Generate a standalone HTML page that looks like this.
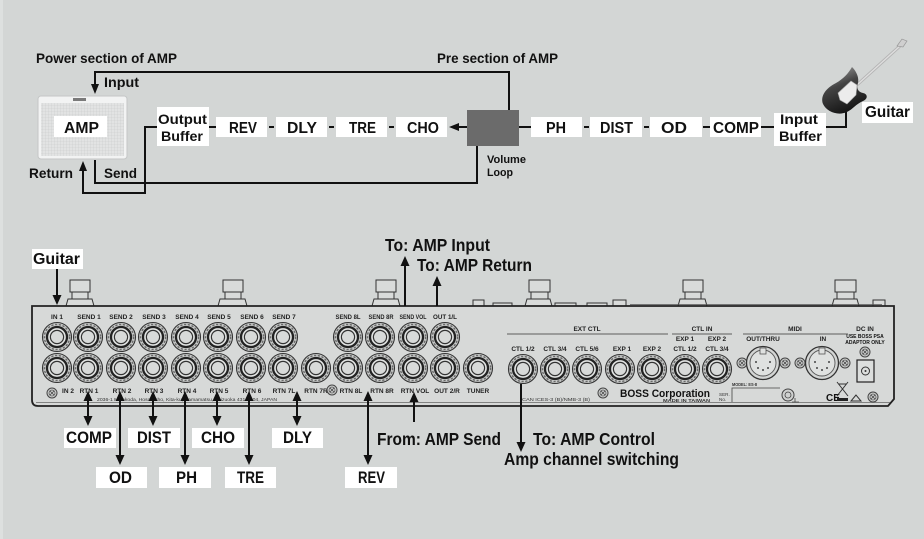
<!DOCTYPE html>
<html><head><meta charset="utf-8"><style>
html,body{margin:0;padding:0;background:#d3d6d5;}
svg{display:block;}
text{font-family:"Liberation Sans","DejaVu Sans",sans-serif;font-weight:bold;fill:#111;}
.s{font-size:6.5px;fill:#222;}
.t{font-size:4.6px;fill:#333;font-weight:normal;}
</style></head><body>
<svg width="924" height="539" viewBox="0 0 924 539" xmlns="http://www.w3.org/2000/svg">
<defs>
<linearGradient id="gb" x1="0.2" y1="0" x2="0.6" y2="1">
<stop offset="0" stop-color="#a0a0a0"/><stop offset="0.4" stop-color="#444"/><stop offset="1" stop-color="#111"/>
</linearGradient>
<pattern id="grill" width="3" height="3" patternUnits="userSpaceOnUse">
<rect width="3" height="3" fill="#e2e3e3"/><path d="M0 0H3M0 0V3" stroke="#c9cbcb" stroke-width="0.6"/>
</pattern>
<g id="j">
<circle r="14.5" fill="#c6c8c7" stroke="#333" stroke-width="1.1"/>
<circle r="12.6" fill="none" stroke="#6a6a6a" stroke-width="1.4" stroke-dasharray="2.2 1.6"/>
<circle r="10" fill="#e3e5e4" stroke="#222" stroke-width="2.3"/>
<circle r="6.6" fill="#d8dad9" stroke="#333" stroke-width="1.2"/>
</g>
<g id="sc">
<circle r="5" fill="#cfd1d0" stroke="#444" stroke-width="1"/>
<circle r="3" fill="none" stroke="#555" stroke-width="0.8"/>
<path d="M-2 -2L2 2M2 -2L-2 2" stroke="#444" stroke-width="0.8"/>
</g>
<g id="xlr">
<circle r="16.5" fill="#d3d5d4" stroke="#333" stroke-width="1.3"/>
<circle r="13" fill="#dfe1e0" stroke="#555" stroke-width="0.9"/>
<rect x="-3" y="-15" width="6" height="6" fill="#dfe1e0" stroke="#555" stroke-width="0.8"/>
<circle cx="-7" cy="-1" r="1" fill="#444"/><circle cx="7" cy="-1" r="1" fill="#444"/>
<circle cx="-5" cy="5" r="1" fill="#444"/><circle cx="5" cy="5" r="1" fill="#444"/><circle cx="0" cy="7" r="1" fill="#444"/>
</g>
</defs>

<rect x="0" y="0" width="924" height="539" fill="#d3d6d5"/>
<rect x="0" y="0" width="3" height="539" fill="#dde0df"/>

<!-- ===== TOP DIAGRAM ===== -->
<text x="36" y="63" font-size="14" textLength="141" lengthAdjust="spacingAndGlyphs">Power section of AMP</text>
<text x="437" y="63" font-size="14" textLength="121" lengthAdjust="spacingAndGlyphs">Pre section of AMP</text>

<g stroke="#111" stroke-width="2" fill="none">
<polyline points="509,110 509,72 95,72 95,86"/>
<polyline points="95,160 95,183 477,183 477,146"/>
<polyline points="157,127 145,127 145,193 83,193 83,170"/>
<line x1="209" y1="127" x2="216" y2="127"/>
<line x1="269" y1="127" x2="274" y2="127"/>
<line x1="329" y1="127" x2="334" y2="127"/>
<line x1="389" y1="127" x2="394" y2="127"/>
<line x1="467" y1="127" x2="456" y2="127"/>
<line x1="519" y1="127" x2="531" y2="127"/>
<line x1="584" y1="127" x2="589" y2="127"/>
<line x1="644" y1="127" x2="649" y2="127"/>
<line x1="703" y1="127" x2="710" y2="127"/>
<line x1="761" y1="127" x2="774" y2="127"/>
<polyline points="826,127 846,127 846,110"/>
</g>
<polygon points="95,94 91,84 99,84" fill="#111"/>
<polygon points="83,161 79,171 87,171" fill="#111"/>
<polygon points="449,127 459,123 459,131" fill="#111"/>

<text x="104" y="87" font-size="14" textLength="35" lengthAdjust="spacingAndGlyphs">Input</text>
<text x="29" y="178" font-size="14" textLength="44" lengthAdjust="spacingAndGlyphs">Return</text>
<text x="104" y="178" font-size="14" textLength="33" lengthAdjust="spacingAndGlyphs">Send</text>

<!-- amp -->
<rect x="38" y="96" width="89" height="63" rx="3" fill="#f2f3f3" stroke="#c4c6c6" stroke-width="1"/>
<rect x="41" y="103" width="83" height="53" fill="url(#grill)"/>
<rect x="73" y="98" width="13" height="3" fill="#7a7a7a"/>
<rect x="54" y="116" width="53" height="21" fill="#fff"/>
<text x="64" y="133" font-size="15.5" textLength="35" lengthAdjust="spacingAndGlyphs">AMP</text>

<!-- chain boxes -->
<rect x="157" y="107" width="52" height="39" fill="#fff"/>
<text x="158" y="124" font-size="14" textLength="49" lengthAdjust="spacingAndGlyphs">Output</text>
<text x="161" y="141" font-size="14" textLength="42" lengthAdjust="spacingAndGlyphs">Buffer</text>

<rect x="216" y="117" width="51" height="20" fill="#fff"/>
<text x="229" y="133" font-size="15.5" textLength="28" lengthAdjust="spacingAndGlyphs">REV</text>
<rect x="276" y="117" width="51" height="20" fill="#fff"/>
<text x="287" y="133" font-size="15.5" textLength="30" lengthAdjust="spacingAndGlyphs">DLY</text>
<rect x="336" y="117" width="51" height="20" fill="#fff"/>
<text x="349" y="133" font-size="15.5" textLength="27" lengthAdjust="spacingAndGlyphs">TRE</text>
<rect x="396" y="117" width="51" height="20" fill="#fff"/>
<text x="407" y="133" font-size="15.5" textLength="32" lengthAdjust="spacingAndGlyphs">CHO</text>

<rect x="467" y="110" width="52" height="36" fill="#6b6b6b"/>
<text x="487" y="163" font-size="11" textLength="39" lengthAdjust="spacingAndGlyphs">Volume</text>
<text x="487" y="176" font-size="11" textLength="26" lengthAdjust="spacingAndGlyphs">Loop</text>

<rect x="531" y="117" width="51" height="20" fill="#fff"/>
<text x="546" y="133" font-size="15.5" textLength="20" lengthAdjust="spacingAndGlyphs">PH</text>
<rect x="590" y="117" width="52" height="20" fill="#fff"/>
<text x="600" y="133" font-size="15.5" textLength="33" lengthAdjust="spacingAndGlyphs">DIST</text>
<rect x="650" y="117" width="52" height="20" fill="#fff"/>
<text x="661" y="133" font-size="15.5" textLength="26" lengthAdjust="spacingAndGlyphs">OD</text>
<rect x="710" y="117" width="51" height="20" fill="#fff"/>
<text x="713" y="133" font-size="15.5" textLength="46" lengthAdjust="spacingAndGlyphs">COMP</text>
<rect x="774" y="113" width="52" height="33" fill="#fff"/>
<text x="780" y="124" font-size="14" textLength="38" lengthAdjust="spacingAndGlyphs">Input</text>
<text x="779" y="141" font-size="14" textLength="43" lengthAdjust="spacingAndGlyphs">Buffer</text>

<!-- guitar -->
<line x1="858" y1="84" x2="900" y2="46" stroke="#b4b4b4" stroke-width="3.2" stroke-linecap="round"/>
<line x1="858" y1="84" x2="900" y2="46" stroke="#dedede" stroke-width="1.4" stroke-linecap="round"/>
<path d="M897 46 L902 39 L907 41 L903 47 Z" fill="#cfcfcf" stroke="#999" stroke-width="0.7"/>
<path d="M852 67 C848 74 843 79 836 83 C826 88 820 96 823 104 C827 112 838 116 847 112 C853 109 856 104 863 101 C868 99 868 94 863 93 C858 92 856 88 858 83 C859 78 857 72 852 67 Z" fill="url(#gb)"/>
<path d="M838 93 L851 81 L857 85 L856 95 L847 104 L840 100 Z" fill="#ececec" stroke="#aaa" stroke-width="0.6"/>
<rect x="862" y="102" width="51" height="21" fill="#fff"/>
<text x="865" y="117" font-size="15.5" textLength="45" lengthAdjust="spacingAndGlyphs">Guitar</text>

<!-- ===== BOTTOM DIAGRAM ===== -->
<g fill="#d9dbda" stroke="#333" stroke-width="1">
<rect x="70" y="280" width="20" height="12"/><rect x="72" y="292" width="16" height="7"/><path d="M66 306 L68 299 L92 299 L94 306"/>
<rect x="223" y="280" width="20" height="12"/><rect x="225" y="292" width="16" height="7"/><path d="M218 306 L220 299 L245 299 L247 306"/>
<rect x="376" y="280" width="20" height="12"/><rect x="378" y="292" width="16" height="7"/><path d="M372 306 L374 299 L398 299 L400 306"/>
<rect x="529" y="280" width="21" height="12"/><rect x="531" y="292" width="17" height="7"/><path d="M525 306 L527 299 L550 299 L552 306"/>
<rect x="683" y="280" width="20" height="12"/><rect x="685" y="292" width="16" height="7"/><path d="M678 306 L680 299 L705 299 L707 306"/>
<rect x="835" y="280" width="21" height="12"/><rect x="837" y="292" width="17" height="7"/><path d="M832 306 L834 299 L857 299 L859 306"/>
<rect x="473" y="300" width="11" height="6"/><rect x="493" y="303" width="19" height="3"/>
<rect x="555" y="303" width="21" height="3"/><rect x="587" y="303" width="20" height="3"/>
<rect x="613" y="300" width="13" height="6"/><rect x="873" y="300" width="12" height="6"/>
</g>

<path d="M32 306 L894 306 L894 399 L888 406 L38 406 Q32 406 32 400 Z" fill="#d7d9d8" stroke="#222" stroke-width="1.8"/>
<line x1="630" y1="304.5" x2="882" y2="304.5" stroke="#555" stroke-width="0.8"/>
<line x1="36" y1="402.5" x2="890" y2="402.5" stroke="#666" stroke-width="0.8"/>

<use href="#j" x="57" y="337"/><use href="#j" x="88" y="337"/><use href="#j" x="121" y="337"/><use href="#j" x="153" y="337"/>
<use href="#j" x="186" y="337"/><use href="#j" x="218" y="337"/><use href="#j" x="251" y="337"/><use href="#j" x="283" y="337"/>
<use href="#j" x="348" y="337"/><use href="#j" x="380" y="337"/><use href="#j" x="413" y="337"/><use href="#j" x="445" y="337"/>
<use href="#j" x="57" y="368"/><use href="#j" x="88" y="368"/><use href="#j" x="121" y="368"/><use href="#j" x="153" y="368"/>
<use href="#j" x="186" y="368"/><use href="#j" x="218" y="368"/><use href="#j" x="251" y="368"/><use href="#j" x="283" y="368"/>
<use href="#j" x="316" y="368"/><use href="#j" x="348" y="368"/><use href="#j" x="380" y="368"/><use href="#j" x="413" y="368"/>
<use href="#j" x="445" y="368"/><use href="#j" x="478" y="368"/>
<use href="#j" x="523" y="369"/><use href="#j" x="555" y="369"/><use href="#j" x="587" y="369"/><use href="#j" x="620" y="369"/>
<use href="#j" x="652" y="369"/><use href="#j" x="685" y="369"/><use href="#j" x="717" y="369"/>

<g class="s" text-anchor="middle">
<text x="57" y="319" class="s">IN 1</text><text x="89" y="319" class="s">SEND 1</text><text x="121" y="319" class="s">SEND 2</text>
<text x="154" y="319" class="s">SEND 3</text><text x="187" y="319" class="s">SEND 4</text><text x="219" y="319" class="s">SEND 5</text>
<text x="252" y="319" class="s">SEND 6</text><text x="284" y="319" class="s">SEND 7</text>
<text x="348" y="319" class="s" textLength="25" lengthAdjust="spacingAndGlyphs">SEND 8L</text>
<text x="381" y="319" class="s" textLength="25" lengthAdjust="spacingAndGlyphs">SEND 8R</text>
<text x="413" y="319" class="s" textLength="27" lengthAdjust="spacingAndGlyphs">SEND VOL</text>
<text x="445" y="319" class="s" textLength="24" lengthAdjust="spacingAndGlyphs">OUT 1/L</text>
<text x="68" y="393" class="s">IN 2</text><text x="89" y="393" class="s">RTN 1</text><text x="122" y="393" class="s">RTN 2</text>
<text x="154" y="393" class="s">RTN 3</text><text x="187" y="393" class="s">RTN 4</text><text x="219" y="393" class="s">RTN 5</text>
<text x="252" y="393" class="s">RTN 6</text><text x="284" y="393" class="s">RTN 7L</text><text x="316" y="393" class="s">RTN 7R</text>
<text x="351" y="393" class="s">RTN 8L</text><text x="382" y="393" class="s">RTN 8R</text><text x="415" y="393" class="s">RTN VOL</text>
<text x="447" y="393" class="s">OUT 2/R</text><text x="478" y="393" class="s">TUNER</text>
<text x="587" y="331" class="s">EXT CTL</text><text x="702" y="331" class="s">CTL IN</text><text x="795" y="331" class="s">MIDI</text><text x="865" y="331" class="s">DC IN</text>
<text x="523" y="351" class="s">CTL 1/2</text><text x="555" y="351" class="s">CTL 3/4</text><text x="587" y="351" class="s">CTL 5/6</text>
<text x="622" y="351" class="s">EXP 1</text><text x="652" y="351" class="s">EXP 2</text>
<text x="685" y="341" class="s">EXP 1</text><text x="717" y="341" class="s">EXP 2</text>
<text x="685" y="351" class="s">CTL 1/2</text><text x="717" y="351" class="s">CTL 3/4</text>
<text x="763" y="341" class="s">OUT/THRU</text><text x="823" y="341" class="s">IN</text>
<text x="865" y="338" style="font-size:5px">USE BOSS PSA</text><text x="865" y="344" style="font-size:5px">ADAPTOR ONLY</text>
</g>
<line x1="507" y1="334" x2="668" y2="334" stroke="#333" stroke-width="0.8"/>
<line x1="672" y1="334" x2="732" y2="334" stroke="#333" stroke-width="0.8"/>
<line x1="743" y1="334" x2="848" y2="334" stroke="#333" stroke-width="0.8"/>

<use href="#sc" x="52" y="393"/><use href="#sc" x="332" y="390"/><use href="#sc" x="603" y="393"/>
<use href="#sc" x="742" y="363"/><use href="#sc" x="785" y="363"/><use href="#sc" x="800" y="363"/><use href="#sc" x="845" y="363"/>
<use href="#sc" x="865" y="352"/><use href="#sc" x="873" y="397"/>
<use href="#xlr" x="763" y="363"/><use href="#xlr" x="822" y="363"/>
<rect x="857" y="360" width="17" height="22" fill="#dcdedd" stroke="#222" stroke-width="1.2"/>
<circle cx="865.5" cy="371" r="4" fill="none" stroke="#333" stroke-width="1"/>
<circle cx="865.5" cy="371" r="1" fill="#333"/>

<text x="97" y="401" class="t" textLength="180" lengthAdjust="spacingAndGlyphs">2036-1 Miyakoda, Hosoe-cho, Kita-ku, Hamamatsu, Shizuoka 431-1304, JAPAN</text>
<text x="522" y="401" class="t" textLength="68" lengthAdjust="spacingAndGlyphs">CAN ICES-3 (B)/NMB-3 (B)</text>
<text x="620" y="397" font-size="11" textLength="90" lengthAdjust="spacingAndGlyphs" fill="#1a1a1a">BOSS Corporation</text>
<text x="663" y="402" class="t" style="font-weight:bold" textLength="47" lengthAdjust="spacingAndGlyphs">MADE IN TAIWAN</text>
<text x="732" y="386" class="t" style="font-weight:bold" textLength="25" lengthAdjust="spacingAndGlyphs">MODEL: ES-8</text>
<text x="719" y="396" class="t">SER.</text><text x="719" y="401" class="t">No.</text>
<polyline points="780,388 732,388 732,402" fill="none" stroke="#444" stroke-width="0.8"/>
<circle cx="788" cy="395" r="6" fill="#cfd1d0" stroke="#444" stroke-width="1"/>
<circle cx="788" cy="395" r="3" fill="none" stroke="#444" stroke-width="0.8"/>
<path d="M795 398 L795 402 M792 402 L799 402" stroke="#444" stroke-width="0.8"/>
<text x="826" y="401" font-size="10" font-weight="normal" fill="#333">CE</text>
<path d="M837 382 L848 396 M848 382 L837 396 M839 384 L846 384" stroke="#333" stroke-width="1" fill="none"/>
<rect x="837" y="398" width="11" height="3" fill="#222"/>
<polygon points="856,395 851,401 861,401" fill="none" stroke="#333" stroke-width="1"/>

<g stroke="#111" stroke-width="2">
<line x1="57" y1="269" x2="57" y2="296"/>
<line x1="405" y1="306" x2="405" y2="265"/>
<line x1="437" y1="306" x2="437" y2="285"/>
<line x1="88" y1="400" x2="88" y2="418"/>
<line x1="120" y1="400" x2="120" y2="457"/>
<line x1="153" y1="400" x2="153" y2="418"/>
<line x1="185" y1="400" x2="185" y2="457"/>
<line x1="217" y1="400" x2="217" y2="418"/>
<line x1="249" y1="400" x2="249" y2="457"/>
<line x1="297" y1="400" x2="297" y2="418"/>
<line x1="368" y1="400" x2="368" y2="457"/>
<line x1="414" y1="422" x2="414" y2="401"/>
<line x1="521" y1="384" x2="521" y2="443"/>
</g>
<g fill="#111">
<polygon points="57,305 52.5,295 61.5,295"/>
<polygon points="405,256 400.5,266 409.5,266"/>
<polygon points="437,276 432.5,286 441.5,286"/>
<polygon points="88,391 83.5,401 92.5,401"/><polygon points="88,426 83.5,416 92.5,416"/>
<polygon points="120,391 115.5,401 124.5,401"/><polygon points="120,465 115.5,455 124.5,455"/>
<polygon points="153,391 148.5,401 157.5,401"/><polygon points="153,426 148.5,416 157.5,416"/>
<polygon points="185,391 180.5,401 189.5,401"/><polygon points="185,465 180.5,455 189.5,455"/>
<polygon points="217,391 212.5,401 221.5,401"/><polygon points="217,426 212.5,416 221.5,416"/>
<polygon points="249,391 244.5,401 253.5,401"/><polygon points="249,465 244.5,455 253.5,455"/>
<polygon points="297,391 292.5,401 301.5,401"/><polygon points="297,426 292.5,416 301.5,416"/>
<polygon points="368,391 363.5,401 372.5,401"/><polygon points="368,465 363.5,455 372.5,455"/>
<polygon points="414,392 409.5,402 418.5,402"/>
<polygon points="521,452 516.5,442 525.5,442"/>
</g>

<rect x="32" y="249" width="51" height="20" fill="#fff"/>
<text x="33" y="264" font-size="16" textLength="47" lengthAdjust="spacingAndGlyphs">Guitar</text>
<text x="385" y="251" font-size="17.5" textLength="105" lengthAdjust="spacingAndGlyphs">To: AMP Input</text>
<text x="417" y="271" font-size="17.5" textLength="115" lengthAdjust="spacingAndGlyphs">To: AMP Return</text>

<rect x="64" y="428" width="52" height="20" fill="#fff"/>
<text x="66" y="443" font-size="17" textLength="46" lengthAdjust="spacingAndGlyphs">COMP</text>
<rect x="128" y="428" width="52" height="20" fill="#fff"/>
<text x="137" y="443" font-size="17" textLength="34" lengthAdjust="spacingAndGlyphs">DIST</text>
<rect x="192" y="428" width="52" height="20" fill="#fff"/>
<text x="201" y="443" font-size="17" textLength="34" lengthAdjust="spacingAndGlyphs">CHO</text>
<rect x="272" y="428" width="51" height="20" fill="#fff"/>
<text x="283" y="443" font-size="17" textLength="29" lengthAdjust="spacingAndGlyphs">DLY</text>

<rect x="96" y="467" width="51" height="21" fill="#fff"/>
<text x="109" y="483" font-size="17" textLength="23" lengthAdjust="spacingAndGlyphs">OD</text>
<rect x="159" y="467" width="52" height="21" fill="#fff"/>
<text x="176" y="483" font-size="17" textLength="21" lengthAdjust="spacingAndGlyphs">PH</text>
<rect x="225" y="467" width="51" height="21" fill="#fff"/>
<text x="237" y="483" font-size="17" textLength="27" lengthAdjust="spacingAndGlyphs">TRE</text>
<rect x="345" y="467" width="52" height="21" fill="#fff"/>
<text x="358" y="483" font-size="17" textLength="27" lengthAdjust="spacingAndGlyphs">REV</text>

<text x="377" y="445" font-size="17.5" textLength="124" lengthAdjust="spacingAndGlyphs">From: AMP Send</text>
<text x="533" y="445" font-size="17.5" textLength="122" lengthAdjust="spacingAndGlyphs">To: AMP Control</text>
<text x="504" y="465" font-size="17.5" textLength="175" lengthAdjust="spacingAndGlyphs">Amp channel switching</text>
</svg>
</body></html>
